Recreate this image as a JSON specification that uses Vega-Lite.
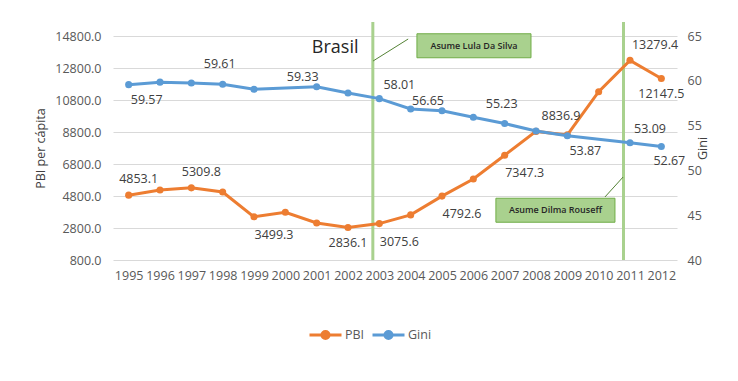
{
  "$schema": "https://vega.github.io/schema/vega-lite/v6.json",
  "width": 564,
  "height": 224,
  "autosize": "none",
  "padding": {"left": 113, "top": 36, "right": 61, "bottom": 121},
  "background": "white",
  "config": {
    "view": {"stroke": null},
    "font": "Open Sans",
    "axis": {
      "labelFont": "Open Sans",
      "labelFontSize": 12.5,
      "labelColor": "#595959",
      "labelOverlap": false,
      "titleFont": "Open Sans",
      "titleFontSize": 12.5,
      "titleColor": "#404040",
      "titleFontWeight": "normal",
      "domain": false,
      "ticks": false
    }
  },
  "datasets": {
    "series": [
      {"year": 1995, "pbi": 4853.1, "gini": 59.57, "pbiPos": "a", "giniPos": "br"},
      {"year": 1996, "pbi": 5170, "gini": 59.85, "pbiPos": null, "giniPos": null},
      {"year": 1997, "pbi": 5309.8, "gini": 59.76, "pbiPos": "a", "giniPos": null},
      {"year": 1998, "pbi": 5050, "gini": 59.61, "pbiPos": null, "giniPos": "a"},
      {"year": 1999, "pbi": 3499.3, "gini": 59.05, "pbiPos": "br", "giniPos": null},
      {"year": 2000, "pbi": 3780, "gini": null, "pbiPos": null, "giniPos": null},
      {"year": 2001, "pbi": 3110, "gini": 59.33, "pbiPos": null, "giniPos": "al"},
      {"year": 2002, "pbi": 2836.1, "gini": 58.63, "pbiPos": "b", "giniPos": null},
      {"year": 2003, "pbi": 3075.6, "gini": 58.01, "pbiPos": "br", "giniPos": "ar"},
      {"year": 2004, "pbi": 3620, "gini": 56.86, "pbiPos": null, "giniPos": null},
      {"year": 2005, "pbi": 4792.6, "gini": 56.65, "pbiPos": "br", "giniPos": "al"},
      {"year": 2006, "pbi": 5860, "gini": 55.93, "pbiPos": null, "giniPos": null},
      {"year": 2007, "pbi": 7347.3, "gini": 55.23, "pbiPos": "br", "giniPos": "a"},
      {"year": 2008, "pbi": 8836.9, "gini": 54.39, "pbiPos": "ar", "giniPos": null},
      {"year": 2009, "pbi": 8620, "gini": 53.87, "pbiPos": null, "giniPos": "br"},
      {"year": 2010, "pbi": 11320, "gini": null, "pbiPos": null, "giniPos": null},
      {"year": 2011, "pbi": 13279.4, "gini": 53.09, "pbiPos": "ar", "giniPos": "ar"},
      {"year": 2012, "pbi": 12147.5, "gini": 52.67, "pbiPos": "b", "giniPos": "bs"}
    ],
    "events": [
      {"year": 2003, "president": "Lula Da Silva"},
      {"year": 2011, "president": "Dilma Rouseff"}
    ],
    "notes": [
      {"label": "Asume Lula Da Silva", "x1": 2004.2, "x2": 2007.84, "y1": 13440, "y2": 14940, "xm": 2006.02, "ym": 14190, "lx1": 2002.8, "lx2": 2003.92, "ly1": 13237, "ly2": 14612},
      {"label": "Asume Dilma Rouseff", "x1": 2006.72, "x2": 2010.52, "y1": 3160, "y2": 4660, "xm": 2008.62, "ym": 3910, "lx1": 2010.2, "lx2": 2010.78, "ly1": 4737, "ly2": 5987}
    ],
    "heading": [
      {"text": "Brasil", "x": 2001.59, "y": 14050}
    ]
  },
  "data": {"name": "series"},
  "encoding": {
    "x": {
      "field": "year",
      "type": "quantitative",
      "scale": {"domain": [1994.5, 2012.5], "nice": false, "zero": false},
      "axis": {
        "values": [1995, 1996, 1997, 1998, 1999, 2000, 2001, 2002, 2003, 2004, 2005, 2006, 2007, 2008, 2009, 2010, 2011, 2012],
        "tickCount": 30,
        "format": "d",
        "grid": false,
        "labelPadding": 9,
        "labelFlush": false,
        "labelOverlap": false,
        "title": null
      }
    }
  },
  "layer": [
    {
      "layer": [
        {
          "data": {"name": "events"},
          "mark": {"type": "rule", "color": "#a9d18e", "strokeWidth": 3, "xOffset": -6.5},
          "encoding": {
            "x": {"field": "year", "type": "quantitative"},
            "y": {"datum": 800, "type": "quantitative", "scale": {"domain": [800, 14800], "nice": false, "zero": false}, "axis": {"values": [800, 2800, 4800, 6800, 8800, 10800, 12800, 14800], "tickCount": 20, "format": ".1f", "grid": true, "gridColor": "#d9d9d9", "labelPadding": 12, "labelOverlap": false, "title": "PBI per cápita", "titlePadding": 7}},
            "y2": {"datum": 15675}
          }
        },
        {
          "mark": {"type": "line", "strokeWidth": 3, "point": {"filled": true, "size": 50}},
          "encoding": {
            "y": {"field": "pbi", "type": "quantitative", "scale": {"domain": [800, 14800], "nice": false, "zero": false}, "axis": {"values": [800, 2800, 4800, 6800, 8800, 10800, 12800, 14800], "tickCount": 20, "format": ".1f", "grid": true, "gridColor": "#d9d9d9", "labelPadding": 12, "labelOverlap": false, "title": "PBI per cápita", "titlePadding": 7}},
            "color": {
              "datum": "PBI",
              "type": "nominal",
              "scale": {"domain": ["PBI", "Gini"], "range": ["#ed7d31", "#5b9bd5"]},
              "legend": {
                "orient": "none",
                "legendX": 195,
                "legendY": 281,
                "direction": "horizontal",
                "title": null,
                "symbolType": "M-1,0H1M-0.22,0a0.22,0.22 0 1,0 0.44,0a0.22,0.22 0 1,0 -0.44,0",
                "symbolSize": 1024,
                "symbolStrokeWidth": 3,
                "labelFont": "Open Sans",
                "labelFontSize": 12.5,
                "labelColor": "#595959",
                "labelOffset": 2,
                "columnPadding": 1,
                "encode": {"symbols": {"update": {"fill": {"scale": "color", "field": "value"}, "stroke": {"scale": "color", "field": "value"}}}}
              }
            }
          }
        },
        {
          "transform": [{"filter": "isValid(datum.pbiPos)"}],
          "mark": {
            "type": "text",
            "fontSize": 12.5,
            "color": "#404040",
            "dx": {"expr": "datum.pbiPos == 'a' ? 10 : datum.pbiPos == 'ar' ? 25 : datum.pbiPos == 'br' ? 20 : 0"},
            "dy": {"expr": "datum.pbiPos == 'a' ? -16 : datum.pbiPos == 'ar' ? -15 : datum.pbiPos == 'br' ? 18 : 16"}
          },
          "encoding": {
            "y": {"field": "pbi", "type": "quantitative"},
            "text": {"field": "pbi", "type": "quantitative", "format": ".1f"}
          }
        },
        {
          "data": {"name": "notes"},
          "mark": {"type": "rule", "color": "#548235", "strokeWidth": 1},
          "encoding": {
            "x": {"field": "lx1", "type": "quantitative"},
            "x2": {"field": "lx2"},
            "y": {"field": "ly1", "type": "quantitative"},
            "y2": {"field": "ly2"}
          }
        },
        {
          "data": {"name": "notes"},
          "mark": {"type": "rect", "fill": "#a9d18e", "stroke": "#70ad47", "strokeWidth": 1},
          "encoding": {
            "x": {"field": "x1", "type": "quantitative"},
            "x2": {"field": "x2"},
            "y": {"field": "y1", "type": "quantitative"},
            "y2": {"field": "y2"}
          }
        },
        {
          "data": {"name": "notes"},
          "mark": {"type": "text", "fontSize": 9, "color": "#262626", "fontWeight": 600, "font": "Open Sans"},
          "encoding": {
            "x": {"field": "xm", "type": "quantitative"},
            "y": {"field": "ym", "type": "quantitative"},
            "text": {"field": "label"}
          }
        },
        {
          "data": {"name": "heading"},
          "mark": {"type": "text", "fontSize": 18, "color": "#262626", "font": "Open Sans"},
          "encoding": {
            "x": {"field": "x", "type": "quantitative"},
            "y": {"field": "y", "type": "quantitative"},
            "text": {"field": "text"}
          }
        }
      ]
    },
    {
      "transform": [{"filter": "isValid(datum.gini)"}],
      "layer": [
        {
          "mark": {"type": "line", "strokeWidth": 3, "point": {"filled": true, "size": 50}},
          "encoding": {
            "y": {"field": "gini", "type": "quantitative", "scale": {"domain": [40, 65], "nice": false, "zero": false}, "axis": {"orient": "right", "values": [40, 45, 50, 55, 60, 65], "tickCount": 20, "grid": false, "labelPadding": 10, "labelOverlap": false, "title": "Gini", "titleAngle": 270, "titlePadding": 8}},
            "color": {"datum": "Gini", "type": "nominal"}
          }
        },
        {
          "transform": [{"filter": "isValid(datum.giniPos)"}],
          "mark": {
            "type": "text",
            "fontSize": 12.5,
            "color": "#404040",
            "dx": {"expr": "datum.giniPos == 'a' ? -3 : datum.giniPos == 'al' ? -14 : datum.giniPos == 'ar' ? 20 : datum.giniPos == 'bs' ? 8 : 18"},
            "dy": {"expr": "datum.giniPos == 'a' ? -20 : datum.giniPos == 'al' ? -10 : datum.giniPos == 'ar' ? -14 : 15"}
          },
          "encoding": {
            "y": {"field": "gini", "type": "quantitative"},
            "text": {"field": "gini", "type": "quantitative", "format": ".2f"}
          }
        }
      ]
    }
  ],
  "resolve": {"scale": {"y": "independent"}}
}
